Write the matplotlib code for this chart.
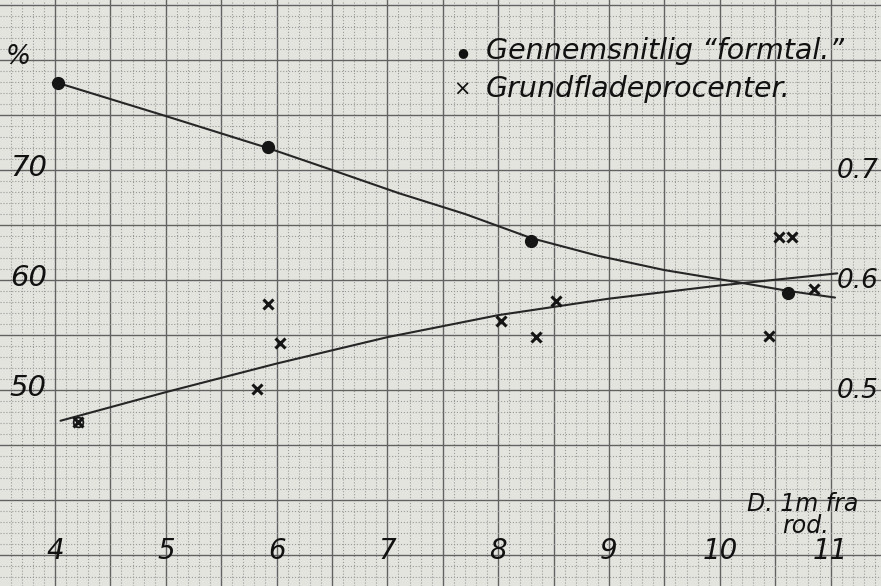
import matplotlib
matplotlib.use("Agg")
import matplotlib.pyplot as plt
from matplotlib.ticker import MultipleLocator

# ================= data =====================================
# dots: Gennemsnitlig "formtal" (plotted on the % scale, right axis = value/100)
formtal_x = [4.03, 5.92, 8.30, 10.62]
formtal_y = [77.9, 72.1, 63.5, 58.8]

# crosses: Grundfladeprocenter
grund_x = [4.21, 5.82, 5.92, 6.03, 8.03, 8.34, 8.52, 10.44, 10.53, 10.65, 10.85]
grund_y = [47.1, 50.1, 57.8, 54.3, 56.3, 54.8, 58.1, 54.9, 63.9, 63.9, 59.2]

# hand drawn curves, traced point by point
curve_down_x = [4.03, 5.0, 5.92, 6.5, 7.1, 7.7, 8.3, 8.9, 9.5, 10.1, 10.62, 11.04]
curve_down_y = [77.9, 74.9, 72.0, 70.0, 67.9, 66.0, 63.8, 62.2, 60.9, 59.9, 59.0, 58.4]
curve_up_x = [4.05, 5.0, 6.0, 7.0, 8.0, 9.0, 10.0, 11.06]
curve_up_y = [47.2, 49.8, 52.4, 54.8, 56.8, 58.3, 59.5, 60.6]

x_ticks = [4, 5, 6, 7, 8, 9, 10, 11]
left_ticks = [70, 60, 50]
right_ticks = ["0.7", "0.6", "0.5"]

legend_dot = "Gennemsnitlig \u201cformtal.\u201d"
legend_cross = "Grundfladeprocenter."

# ================= figure ==================
PAPER = "#e4e4df"
INK = "#262626"

fig = plt.figure(figsize=(8.81, 5.86), dpi=100, facecolor=PAPER)
ax = fig.add_axes([0, 0, 1, 1], facecolor=PAPER)
ax.set_xlim(3.504, 11.455)
ax.set_ylim(32.18, 85.45)

# graph paper grid
ax.xaxis.set_major_locator(MultipleLocator(0.5))
ax.xaxis.set_minor_locator(MultipleLocator(0.1))
ax.yaxis.set_major_locator(MultipleLocator(5))
ax.yaxis.set_minor_locator(MultipleLocator(1))
ax.grid(which="minor", color="#9a9a9a", linestyle=":", linewidth=0.8)
ax.grid(which="major", color="#626262", linestyle="-", linewidth=1.0)
ax.set_axisbelow(True)
ax.tick_params(which="both", length=0, labelbottom=False, labelleft=False)
for s in ax.spines.values():
    s.set_visible(False)

# curves and points
ax.plot(curve_down_x, curve_down_y, color=INK, lw=1.5, solid_capstyle="round",
        solid_joinstyle="round")
ax.plot(curve_up_x, curve_up_y, color=INK, lw=1.5, solid_capstyle="round",
        solid_joinstyle="round")
ax.plot(formtal_x, formtal_y, "o", color="#151515", ms=8.5)
ax.plot(grund_x, grund_y, "x", color="#151515", ms=7, mew=2.2)
# the first cross is drawn inside a small ring
ax.plot(grund_x[:1], grund_y[:1], "o", mfc="none", mec="#151515", ms=7, mew=1.3)

# hand lettering
lab = dict(color="#111111", style="italic", family="DejaVu Sans")
for x in x_ticks:
    ax.text(x, 35.4, str(x), fontsize=20, ha="center", va="center", **lab)
for v in left_ticks:
    ax.text(3.76, v + 0.2, str(v), fontsize=21, ha="center", va="center", **lab)
for v, t in zip(left_ticks, right_ticks):
    ax.text(11.24, v - 0.1, t, fontsize=19, ha="center", va="center", **lab)
ax.text(3.67, 80.3, "%", fontsize=19, ha="center", va="center", **lab)

ax.text(7.68, 80.7, "\u25cf", fontsize=9, ha="center", va="center", color="#111111")
ax.text(7.89, 80.8, legend_dot, fontsize=20.5, ha="left", va="center", **lab)
ax.text(7.67, 77.3, "\u00d7", fontsize=15, ha="center", va="center", color="#111111")
ax.text(7.89, 77.4, legend_cross, fontsize=20.5, ha="left", va="center", **lab)

ax.text(10.75, 39.6, "D. 1m fra", fontsize=17, ha="center", va="center", **lab)
ax.text(10.77, 37.6, "rod.", fontsize=17, ha="center", va="center", **lab)

fig.savefig("out.png", dpi=100, facecolor=PAPER)
